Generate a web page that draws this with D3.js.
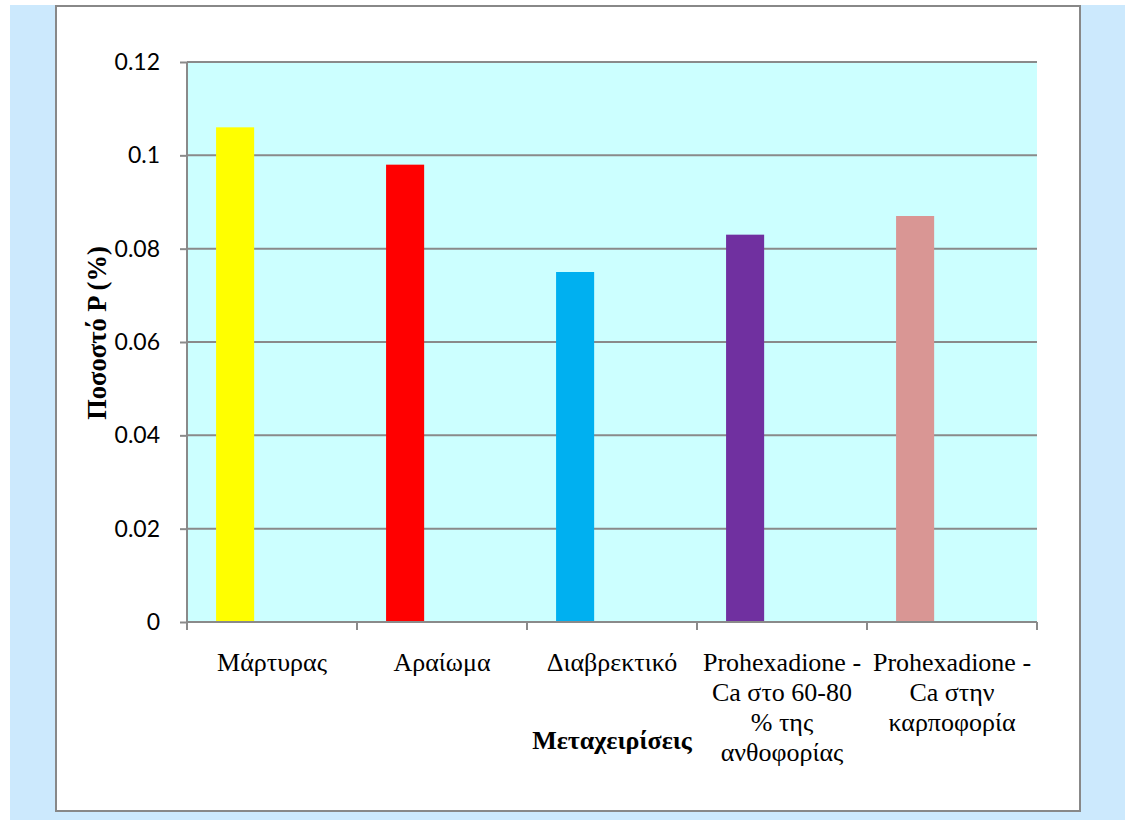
<!DOCTYPE html>
<html>
<head>
<meta charset="utf-8">
<script src="https://cdn.jsdelivr.net/npm/d3@7"></script>
<style>
  html, body { margin: 0; padding: 0; background: #ffffff; }
  svg { display: block; }
  .serif { font-family: "Liberation Serif", "Times New Roman", serif; }
</style>
</head>
<body>
<svg id="chart" width="1125" height="820"></svg>
<script>
// Treatments and phosphorus percentage per treatment
const categories = [
  ["Μάρτυρας"],
  ["Αραίωμα"],
  ["Διαβρεκτικό"],
  ["Prohexadione -", "Ca στο 60-80", "% της", "ανθοφορίας"],
  ["Prohexadione -", "Ca στην", "καρποφορία"]
];
const values = [0.106, 0.098, 0.075, 0.083, 0.087];
const barColors = ["#ffff00", "#ff0000", "#00b0f0", "#7030a0", "#d99694"];
const yTicks = [0, 0.02, 0.04, 0.06, 0.08, 0.1, 0.12];
const yTickLabels = ["0", "0.02", "0.04", "0.06", "0.08", "0.1", "0.12"];
const yTitle = "Ποσοστό P (%)";
const xTitle = "Μεταχειρίσεις";

const svg = d3.select("#chart");

// page backdrop and white chart panel
svg.append("rect").attr("x", 10).attr("y", 5).attr("width", 1115).attr("height", 815)
  .attr("fill", "#cce9fd");
svg.append("rect").attr("x", 57).attr("y", 7).attr("width", 1024).attr("height", 805)
  .attr("fill", "#a8a8a8");
svg.append("rect").attr("x", 56).attr("y", 6).attr("width", 1024).attr("height", 805)
  .attr("fill", "#ffffff").attr("stroke", "#888888").attr("stroke-width", 2);

const plot = { left: 187, right: 1037, top: 62, bottom: 622 };

const x = d3.scaleBand()
  .domain(d3.range(categories.length))
  .range([plot.left, plot.right])
  .padding(0);
const y = d3.scaleLinear()
  .domain([0, 0.12])
  .range([plot.bottom, plot.top]);

// plot background
svg.append("rect")
  .attr("x", plot.left).attr("y", plot.top)
  .attr("width", plot.right - plot.left).attr("height", plot.bottom - plot.top)
  .attr("fill", "#ccffff");

// horizontal gridlines
svg.append("g").selectAll("line")
  .data(yTicks.filter(d => d > 0))
  .join("line")
  .attr("x1", plot.left).attr("x2", plot.right)
  .attr("y1", d => y(d)).attr("y2", d => y(d))
  .attr("stroke", "#8a8a8a").attr("stroke-width", 2);

// bars
svg.append("g").selectAll("rect")
  .data(values)
  .join("rect")
  .attr("x", (d, i) => x(i) + x.bandwidth() * 0.171)
  .attr("width", x.bandwidth() * 0.224)
  .attr("y", d => y(d))
  .attr("height", d => y(0) - y(d))
  .attr("fill", (d, i) => barColors[i]);

// y axis
const yAxis = d3.axisLeft(y)
  .tickValues(yTicks)
  .tickFormat((d, i) => yTickLabels[i])
  .tickSize(7)
  .tickPadding(20);
const gy = svg.append("g").attr("transform", `translate(${plot.left},0)`).call(yAxis);
gy.select(".domain").attr("stroke", "#8a8a8a").attr("stroke-width", 2)
  .attr("d", `M0,${plot.top}V${plot.bottom}`);
gy.selectAll(".tick line").attr("stroke", "#8a8a8a").attr("stroke-width", 2);
gy.selectAll(".tick text")
  .attr("font-family", "Lato, 'Open Sans', sans-serif")
  .attr("font-size", 23).attr("fill", "#000");

// x axis: baseline with boundary ticks between categories
const xBounds = d3.range(categories.length + 1).map(i =>
  i < categories.length ? x(i) : x(categories.length - 1) + x.bandwidth());
svg.append("line")
  .attr("x1", plot.left).attr("x2", plot.right)
  .attr("y1", y(0)).attr("y2", y(0))
  .attr("stroke", "#8a8a8a").attr("stroke-width", 2);
svg.append("g").selectAll("line")
  .data(xBounds)
  .join("line")
  .attr("x1", d => d).attr("x2", d => d)
  .attr("y1", y(0)).attr("y2", y(0) + 8)
  .attr("stroke", "#8a8a8a").attr("stroke-width", 2);

// category labels, wrapped over several lines
const labels = svg.append("g");
categories.forEach((lines, i) => {
  const cx = x(i) + x.bandwidth() / 2;
  const t = labels.append("text")
    .attr("class", "serif")
    .attr("font-size", 26)
    .attr("fill", "#000")
    .attr("text-anchor", "middle")
    .attr("x", cx)
    .attr("y", 671);
  lines.forEach((ln, j) => {
    t.append("tspan")
      .attr("x", cx)
      .attr("dy", j === 0 ? 0 : 30)
      .text(ln);
  });
});

// axis titles
svg.append("text")
  .attr("class", "serif")
  .attr("x", (plot.left + plot.right) / 2).attr("y", 749)
  .attr("text-anchor", "middle")
  .attr("font-weight", "bold").attr("font-size", 26)
  .text(xTitle);
svg.append("text")
  .attr("class", "serif")
  .attr("transform", "translate(106,333) rotate(-90)")
  .attr("text-anchor", "middle")
  .attr("font-weight", "bold").attr("font-size", 26.5)
  .text(yTitle);
</script>
</body>
</html>
